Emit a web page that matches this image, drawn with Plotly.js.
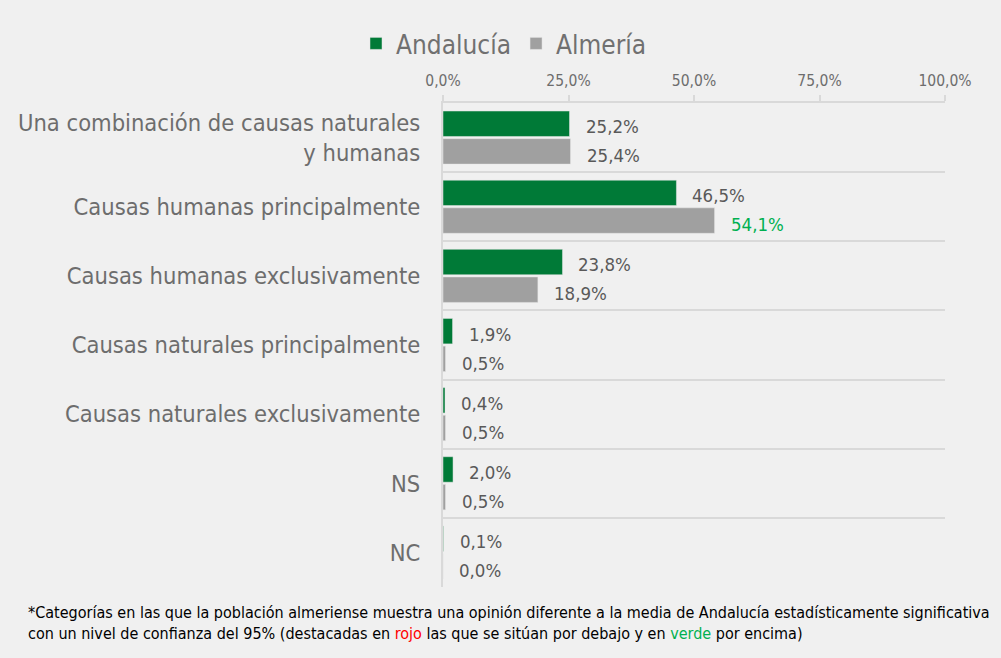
<!DOCTYPE html>
<html>
<head>
<meta charset="utf-8">
<script src="https://cdn.plot.ly/plotly-3.0.1.min.js"></script>
<style>html,body{margin:0;padding:0;background:#f0f0f0;}</style>
</head>
<body>
<div id="chart" style="width:1001px;height:658px;"></div>
<script>
const categories = [
  "Una combinación de causas naturales<br>y humanas",
  "Causas humanas principalmente",
  "Causas humanas exclusivamente",
  "Causas naturales principalmente",
  "Causas naturales exclusivamente",
  "NS",
  "NC"
];
const andalucia = [25.2, 46.5, 23.8, 1.9, 0.4, 2.0, 0.1];
const almeria = [25.4, 54.1, 18.9, 0.5, 0.5, 0.5, 0.0];
// label highlight for Almería: "up" = significantly above (green), "down" = below (red), "" = none
const almeriaSignif = ["", "up", "", "", "", "", ""];
const tickVals = [0, 25, 50, 75, 100];
const tickText = ["0,0%", "25,0%", "50,0%", "75,0%", "100,0%"];

const FONT = "'DejaVu Sans Condensed', 'Liberation Sans Narrow', sans-serif";
const fmt = v => v.toFixed(1).replace('.', ',') + '%';
const labelColor = s => s === 'up' ? '#00b050' : (s === 'down' ? '#ff0000' : '#595959');

const traces = [
  {type: 'bar', orientation: 'h', name: 'Andalucía', x: andalucia, y: categories,
   marker: {color: '#007a37', line: {color: '#e6e6e6', width: 0.5}}, hoverinfo: 'x'},
  {type: 'bar', orientation: 'h', name: 'Almería', x: almeria, y: categories,
   marker: {color: '#a0a0a0', line: {color: '#e6e6e6', width: 0.5}}, hoverinfo: 'x'}
];

const PW = 1001 - 443 - 56;
const annotations = [];
categories.forEach((c, i) => {
  annotations.push({x: andalucia[i], y: c, xref: 'x', yref: 'y', text: fmt(andalucia[i]),
    showarrow: false, xanchor: 'left', yanchor: 'middle', xshift: 14, yshift: 11,
    font: {family: FONT, size: 18.5, color: '#595959'}});
  annotations.push({x: almeria[i], y: c, xref: 'x', yref: 'y', text: fmt(almeria[i]),
    showarrow: false, xanchor: 'left', yanchor: 'middle', xshift: 14, yshift: -18,
    font: {family: FONT, size: 18.5, color: labelColor(almeriaSignif[i])}});
});
annotations.push({xref: 'paper', yref: 'paper', x: (26 - 443) / PW, y: 0, xanchor: 'left', yanchor: 'top',
  align: 'left', showarrow: false, yshift: -14,
  text: "*Categorías en las que la población almeriense muestra una opinión diferente a la media de Andalucía estadísticamente significativa<br>con un nivel de confianza del 95% (destacadas en <span style='color:#ff0000'>rojo</span> las que se sitúan por debajo y en <span style='color:#00b050'>verde</span> por encima)",
  font: {family: FONT, size: 16, color: '#000000'}});

const layout = {
  width: 1001, height: 658,
  paper_bgcolor: '#f0f0f0', plot_bgcolor: '#f0f0f0',
  margin: {l: 443, r: 56, t: 103, b: 71},
  barmode: 'group', bargap: 0.2, bargroupgap: 0.08,
  font: {family: FONT, color: '#6d6d6d'},
  showlegend: true,
  legend: {orientation: 'h', x: (356 - 443) / PW, xanchor: 'left', y: 1 + 36 / 484, yanchor: 'bottom',
    font: {family: FONT, size: 26, color: '#707070'}, itemwidth: 30, bgcolor: 'rgba(0,0,0,0)'},
  xaxis: {side: 'top', range: [0, 100], tickvals: tickVals, ticktext: tickText,
    showgrid: false, zeroline: false, showline: true, linecolor: '#d9d9d9', linewidth: 2,
    ticks: 'outside', ticklen: 6, tickcolor: '#d9d9d9', tickwidth: 2, ticklabelstandoff: 3,
    tickfont: {family: FONT, size: 15.5, color: '#6d6d6d'}, fixedrange: true},
  yaxis: {autorange: 'reversed', type: 'category', tickson: 'boundaries',
    showgrid: true, gridcolor: '#d9d9d9', gridwidth: 2,
    showline: true, linecolor: '#d9d9d9', linewidth: 2, ticks: '', ticklabelstandoff: 16,
    tickfont: {family: FONT, size: 23.5, color: '#6d6d6d'}, fixedrange: true},
  annotations: annotations
};

Plotly.newPlot('chart', traces, layout, {displayModeBar: false, staticPlot: true});
</script>
</body>
</html>
